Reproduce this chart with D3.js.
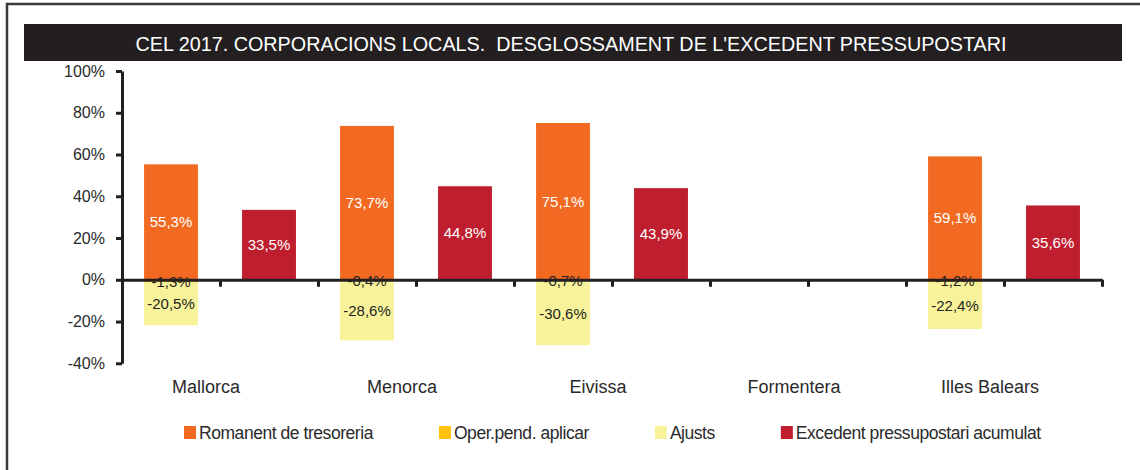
<!DOCTYPE html>
<html><head><meta charset="utf-8">
<script src="https://cdn.jsdelivr.net/npm/d3@7"></script>
<style>
body{margin:0;background:#fff;}
svg{display:block;font-family:"Liberation Sans",Arial,Helvetica,sans-serif;}
</style>
</head><body>
<svg id="c" width="1140" height="470"></svg>
<script>
const title = "CEL 2017. CORPORACIONS LOCALS.  DESGLOSSAMENT DE L'EXCEDENT PRESSUPOSTARI";
const categories = ["Mallorca", "Menorca", "Eivissa", "Formentera", "Illes Balears"];
const romanent  = [55.3, 73.7, 75.1, null, 59.1];
const operPend  = [-1.3, -0.4, -0.7, null, -1.2];
const ajusts    = [-20.5, -28.6, -30.6, null, -22.4];
const excedent  = [33.5, 44.8, 43.9, null, 35.6];
const seriesNames = ["Romanent de tresoreria", "Oper.pend. aplicar", "Ajusts", "Excedent pressupostari acumulat"];
const seriesColors = ["#F26A22", "#FFC20E", "#F8F39B", "#BE1E2D"];
const labelColors = ["#ffffff", "#231F20", "#231F20", "#ffffff"];
const yTicks = [-40, -20, 0, 20, 40, 60, 80, 100];

const svg = d3.select("#c");
const ink = "#231F20";
const fmt = v => v.toFixed(1).replace(".", ",") + "%";

// frame (top + left edges visible)
svg.append("path").attr("d", "M7,470 V4 H1140").attr("fill", "none")
  .attr("stroke", "#3a3a3a").attr("stroke-width", 2.5);

// title bar
svg.append("rect").attr("x", 24).attr("y", 24).attr("width", 1098).attr("height", 37).attr("fill", ink);
svg.append("text").attr("x", 571).attr("y", 51)
  .attr("text-anchor", "middle").attr("fill", "#fff").attr("font-size", 20)
  .style("white-space", "pre")
  .attr("textLength", 871).attr("lengthAdjust", "spacingAndGlyphs")
  .text(title);

// scales
const plotL = 122, plotR = 1102;
const slots = [];
categories.forEach(c => { slots.push(c + "|s"); slots.push(c + "|e"); });
const xSlot = d3.scaleBand().domain(slots).range([plotL, plotR]).paddingInner(0.45).paddingOuter(0.225);
const xCat = d3.scaleBand().domain(categories).range([plotL, plotR]).padding(0);
const xTick = d3.scaleLinear().domain([0, slots.length]).range([plotL, plotR]);
const y = d3.scaleLinear().domain([-40, 100]).range([363.3, 71]);

// stacked data
const rows = categories.map((c, i) => ({
  cat: c,
  romanent: romanent[i] ?? 0,
  operPend: operPend[i] ?? 0,
  ajusts: ajusts[i] ?? 0
}));
const keys = ["romanent", "operPend", "ajusts"];
const stack = d3.stack().keys(keys).offset(d3.stackOffsetDiverging)(rows);

const gBars = svg.append("g");
const gLabels = svg.append("g").attr("font-size", 15).attr("text-anchor", "middle");

stack.forEach((layer, k) => {
  layer.forEach(d => {
    const v = d.data[keys[k]];
    if (!v) return;
    const x0 = xSlot(d.data.cat + "|s");
    const top = y(Math.max(d[0], d[1])), bot = y(Math.min(d[0], d[1]));
    gBars.append("rect").attr("x", x0).attr("y", top)
      .attr("width", xSlot.bandwidth()).attr("height", bot - top)
      .attr("fill", seriesColors[k]);
    gLabels.append("text").attr("x", x0 + xSlot.bandwidth() / 2)
      .attr("y", (top + bot) / 2).attr("dy", "0.36em")
      .attr("fill", labelColors[k]).text(fmt(v));
  });
});

categories.forEach((c, i) => {
  const v = excedent[i];
  if (v == null) return;
  const x0 = xSlot(c + "|e");
  const top = y(v), bot = y(0);
  gBars.append("rect").attr("x", x0).attr("y", top)
    .attr("width", xSlot.bandwidth()).attr("height", bot - top)
    .attr("fill", seriesColors[3]);
  gLabels.append("text").attr("x", x0 + xSlot.bandwidth() / 2)
    .attr("y", (top + bot) / 2).attr("dy", "0.36em")
    .attr("fill", labelColors[3]).text(fmt(v));
});

// y axis
const yAxis = svg.append("g").attr("transform", `translate(${plotL},0)`)
  .call(d3.axisLeft(y).tickValues(yTicks).tickSize(6).tickSizeOuter(0).tickPadding(11)
    .tickFormat(d => d + "%"));
yAxis.select(".domain").attr("stroke", ink).attr("stroke-width", 3);
yAxis.selectAll(".tick line").attr("stroke", ink).attr("stroke-width", 3);
yAxis.selectAll(".tick text").attr("font-size", 16).attr("fill", "#2a2a2a")
  .attr("font-family", null);

// x axis
const xAxis = svg.append("g").attr("transform", `translate(0,${y(0)})`)
  .call(d3.axisBottom(xTick).tickValues(d3.range(0, slots.length + 1)).tickSize(7)
    .tickSizeOuter(0).tickFormat(""));
xAxis.select(".domain").attr("stroke", ink).attr("stroke-width", 3);
xAxis.selectAll(".tick line").attr("stroke", ink).attr("stroke-width", 3);

// category labels
svg.append("g").selectAll("text").data(categories).join("text")
  .attr("x", d => xCat(d) + xCat.bandwidth() / 2 - 14)
  .attr("y", 393).attr("text-anchor", "middle")
  .attr("font-size", 18).attr("fill", "#2a2a2a").text(d => d);

// legend
const lg = svg.append("g");
let lx = 184;
seriesNames.forEach((name, i) => {
  lg.append("rect").attr("x", lx).attr("y", 426).attr("width", 12).attr("height", 13)
    .attr("fill", seriesColors[i]);
  const t = lg.append("text").attr("x", lx + 15).attr("y", 439)
    .attr("font-size", 17.5).attr("letter-spacing", "-0.45px").attr("fill", "#2a2a2a").text(name);
  lx += 15 + t.node().getComputedTextLength() + 66;
});
</script>
</body></html>
